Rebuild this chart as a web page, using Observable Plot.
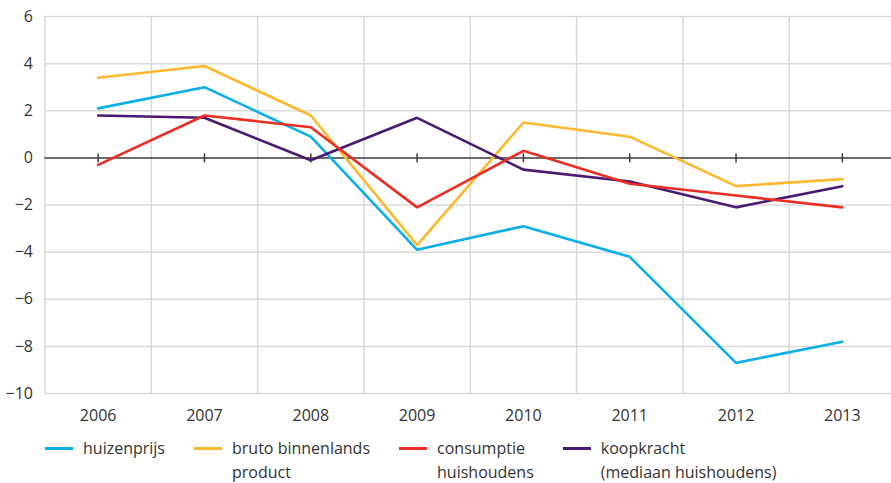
<!DOCTYPE html>
<html>
<head>
<meta charset="utf-8">
<script src="https://cdn.jsdelivr.net/npm/d3@7"></script>
<script src="https://cdn.jsdelivr.net/npm/@observablehq/plot@0.6"></script>
<style>
  body { margin: 0; background: #fff; font-family: "Open Sans", sans-serif; }
  #chart svg { display: block; }
  .legend { display: flex; align-items: flex-start; padding-left: 45px; padding-top: 6px; color: #333; font-size: 16px; line-height: 24px; }
  .item { display: flex; align-items: flex-start; margin-right: 29px; }
  .sw { width: 28px; height: 3px; margin-top: 11px; margin-right: 10px; flex: none; }
</style>
</head>
<body>
<div id="chart"></div>
<div class="legend" id="legend"></div>
<script>
const years = [2006, 2007, 2008, 2009, 2010, 2011, 2012, 2013];
const huizenprijs = [2.1, 3.0, 0.9, -3.9, -2.9, -4.2, -8.7, -7.8];
const bbp = [3.4, 3.9, 1.8, -3.7, 1.5, 0.9, -1.2, -0.9];
const consumptie = [-0.3, 1.8, 1.3, -2.1, 0.3, -1.1, -1.6, -2.1];
const koopkracht = [1.8, 1.7, -0.1, 1.7, -0.5, -1.0, -2.1, -1.2];
const yTicks = [-10, -8, -6, -4, -2, 0, 2, 4, 6];
const seriesNames = ["huizenprijs", "bruto binnenlands\nproduct", "consumptie\nhuishoudens", "koopkracht\n(mediaan huishoudens)"];
const seriesColors = ["#0aaee9", "#ffb72e", "#ec2d24", "#4a1a72"];
const seriesValues = [huizenprijs, bbp, consumptie, koopkracht];

const drawOrder = [0, 1, 3, 2];
const data = [];
drawOrder.forEach(i => years.forEach((yr, j) => data.push({year: yr, value: seriesValues[i][j], series: seriesNames[i]})));

const bounds = years.map(y => y - 0.5);
const fmt = d => d < 0 ? "\u2212" + Math.abs(d) : String(d);

const chart = Plot.plot({
  width: 891,
  height: 430,
  marginLeft: 44.5,
  marginRight: -4,
  marginTop: 16,
  marginBottom: 37,
  style: {fontFamily: "Open Sans, sans-serif", fontSize: "16px", color: "#333", background: "#fff"},
  x: {domain: [2005.5, 2013.5], label: null},
  y: {domain: [-10, 6], label: null},
  color: {domain: seriesNames, range: seriesColors},
  marks: [
    Plot.ruleY(yTicks.filter(d => d !== 0), {stroke: "#d9d9d9", strokeWidth: 1.5}),
    Plot.ruleX(bounds, {stroke: "#d9d9d9", strokeWidth: 1.5}),
    Plot.ruleY([0], {stroke: "#3a3a3a", strokeWidth: 1.5}),
    Plot.ruleX(years, {y1: 0, y2: 0, insetTop: -4, insetBottom: -5, stroke: "#3a3a3a", strokeWidth: 1.5}),
    Plot.line(data, {x: "year", y: "value", z: "series", stroke: "series", strokeWidth: 2.6, strokeLinejoin: "miter"}),
    Plot.axisY({ticks: yTicks, tickSize: 0, tickPadding: 12, tickFormat: fmt, fill: "#333", label: null}),
    Plot.axisX({ticks: years, tickSize: 0, tickPadding: 16, tickFormat: d => String(d), fill: "#333", label: null})
  ]
});
document.getElementById("chart").appendChild(chart);

const legend = document.getElementById("legend");
seriesNames.forEach((name, i) => {
  const item = document.createElement("div");
  item.className = "item";
  const sw = document.createElement("div");
  sw.className = "sw";
  sw.style.background = seriesColors[i];
  const txt = document.createElement("div");
  txt.innerHTML = name.split("\n").join("<br>");
  item.appendChild(sw);
  item.appendChild(txt);
  legend.appendChild(item);
});
</script>
</body>
</html>
